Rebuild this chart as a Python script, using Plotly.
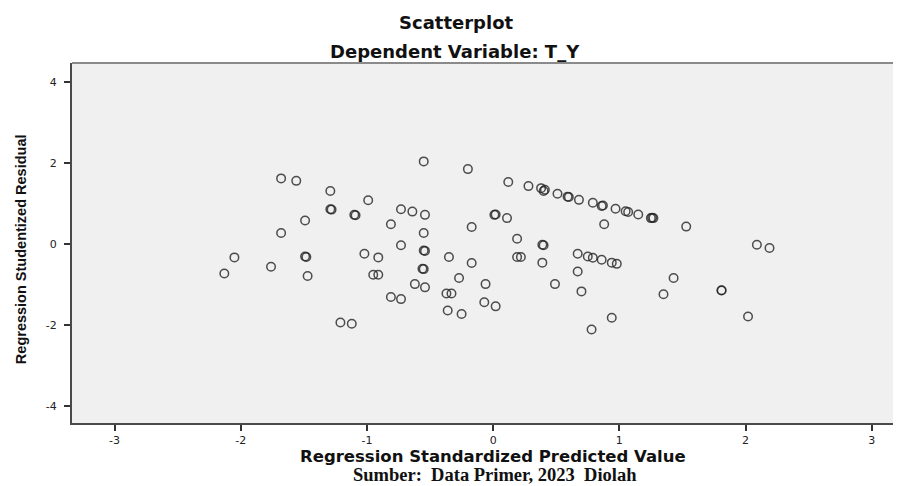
import plotly.graph_objects as go

# Regression Standardized Predicted Value (x) vs Regression Studentized Residual (y)
pred = [-2.13, -2.05, -1.76, -1.68, -1.56, -1.68, -1.49, -1.49, -1.48, -1.47,
        -1.29, -1.29, -1.28, -1.10, -1.09, -0.99, -1.02, -0.91, -0.95, -0.91,
        -1.21, -1.12, -0.81, -0.73, -0.81, -0.73, -0.64, -0.73, -0.62, -0.55,
        -0.54, -0.55, -0.55, -0.54, -0.56, -0.55, -0.54, -0.35, -0.37, -0.33,
        -0.36, -0.27, -0.25, -0.20, -0.17, -0.17, -0.06, -0.07, 0.02, 0.02,
        0.01, 0.11, 0.12, 0.19, 0.19, 0.22, 0.28, 0.38, 0.40, 0.41,
        0.39, 0.40, 0.39, 0.49, 0.51, 0.59, 0.60, 0.68, 0.67, 0.67,
        0.70, 0.75, 0.79, 0.78, 0.79, 0.87, 0.86, 0.86, 0.88, 0.94,
        0.98, 0.94, 0.97, 1.05, 1.07, 1.15, 1.25, 1.26, 1.27, 1.35,
        1.43, 1.53, 1.81, 1.81, 2.02, 2.09, 2.19]
resid = [-0.72, -0.32, -0.55, 1.63, 1.57, 0.28, 0.59, -0.30, -0.31, -0.78,
         1.32, 0.87, 0.86, 0.73, 0.72, 1.09, -0.23, -0.32, -0.75, -0.75,
         -1.93, -1.96, -1.30, -1.35, 0.50, 0.87, 0.81, -0.02, -0.98, 2.05,
         0.73, 0.28, -0.15, -0.16, -0.60, -0.61, -1.06, -0.31, -1.21, -1.21,
         -1.63, -0.83, -1.72, 1.86, 0.43, -0.46, -0.98, -1.43, -1.53, 0.74,
         0.73, 0.65, 1.54, 0.14, -0.31, -0.31, 1.44, 1.39, 1.32, 1.35,
         -0.01, -0.02, -0.45, -0.98, 1.25, 1.18, 1.17, 1.10, -0.23, -0.67,
         -1.16, -0.30, -0.33, -2.10, 1.03, 0.96, 0.95, -0.38, 0.50, -0.45,
         -0.48, -1.81, 0.88, 0.82, 0.80, 0.74, 0.65, 0.66, 0.65, -1.23,
         -0.83, 0.44, -1.13, -1.14, -1.78, -0.01, -0.09]

x_ticks = [-3, -2, -1, 0, 1, 2, 3]
x_tick_labels = ["-3", "-2", "-1", "0", "1", "2", "3"]
y_ticks = [-4, -2, 0, 2, 4]
y_tick_labels = ["-4", "-2", "0", "2", "4"]

fig = go.Figure()
fig.add_trace(go.Scatter(
    x=pred, y=resid, mode="markers",
    marker=dict(symbol="circle-open", size=8.5,
                color="rgba(35,35,35,0.8)", line=dict(width=1.5)),
    showlegend=False, hoverinfo="x+y"))

axis_common = dict(showgrid=False, zeroline=False, showline=True,
                   linecolor="#4a4a4a", linewidth=2, ticks="outside",
                   ticklen=6, tickwidth=1.5, tickcolor="#333",
                   tickfont=dict(family="DejaVu Sans", size=11, color="#222"))

fig.update_xaxes(range=[-3.337, 3.232], tickvals=x_ticks,
                 ticktext=x_tick_labels, **axis_common)
fig.update_yaxes(range=[-4.41, 4.48], tickvals=y_ticks,
                 ticktext=y_tick_labels, ticklabelstandoff=5, **axis_common)

# top border of plot frame
fig.add_shape(type="line", xref="x domain", yref="y domain",
              x0=0, x1=1, y0=1, y1=1, line=dict(color="#8a8a8a", width=2))

title_font = dict(family="DejaVu Sans", size=18, color="#111")
ann = [
    dict(text="<b>Scatterplot</b>", x=0.4632, y=1.112, font=title_font),
    dict(text="<b>Dependent Variable: T_Y</b>", x=0.4626, y=1.031, font=title_font),
    dict(text="<b>Regression Standardized Predicted Value</b>", x=0.5084, y=-0.0944,
         font=dict(family="DejaVu Sans", size=16.5, color="#111")),
    dict(text="<b>Sumber:  Data Primer, 2023  Diolah</b>", x=0.510, y=-0.1458,
         font=dict(family="Liberation Serif", size=18.5, color="#111")),
    dict(text="<b>Regression Studentized Residual</b>", x=-0.0615, y=0.483,
         textangle=-90, font=dict(family="Liberation Sans", size=14.5, color="#111")),
]
for a in ann:
    fig.add_annotation(xref="paper", yref="paper", showarrow=False,
                       xanchor="center", yanchor="middle", **a)

# page body adds an 8px offset, so margins are shifted up/left by 8px
fig.update_layout(width=901, height=486,
                  margin=dict(l=64, r=8, t=55, b=71),
                  plot_bgcolor="#f0f0f0", paper_bgcolor="white")

fig.write_html("out.html")
